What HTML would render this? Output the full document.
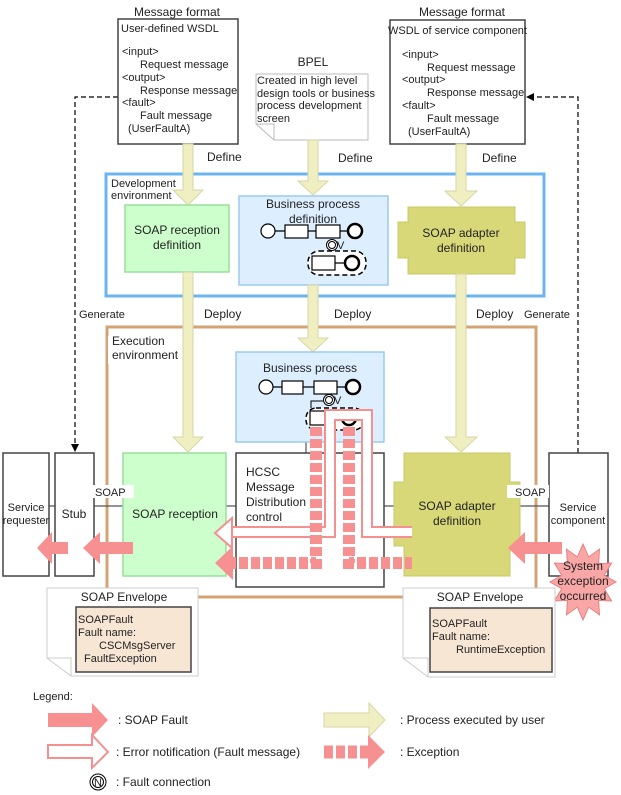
<!DOCTYPE html>
<html><head><meta charset="utf-8"><style>
html,body{margin:0;padding:0;background:#fff;}
svg{display:block;font-family:"Liberation Sans",Arial,sans-serif;}
text{font-size:12px;fill:#222;}
.s{font-size:11px;}
</style></head><body>
<svg width="621" height="795" viewBox="0 0 621 795" xmlns="http://www.w3.org/2000/svg">
<defs>
<marker id="ah" markerWidth="8" markerHeight="8" refX="7" refY="4" orient="auto" markerUnits="userSpaceOnUse"><path d="M0,0 L8,4 L0,8 z" fill="#000"/></marker>
</defs>
<path d="M118,97 H75 V451" fill="none" stroke="#000" stroke-width="1.2" stroke-dasharray="5,3" marker-end="url(#ah)"/>
<path d="M578,453 V97 H527" fill="none" stroke="#000" stroke-width="1.2" stroke-dasharray="5,3" marker-end="url(#ah)"/>

<text x="177" y="16" text-anchor="middle">Message format</text>
<rect x="118" y="19" width="120" height="125" fill="#fff" stroke="#444" stroke-width="1.5"/>
<text class="s" x="121" y="32">User-defined WSDL</text>
<text class="s" x="122" y="55">&lt;input&gt;</text>
<text class="s" x="140" y="68">Request message</text>
<text class="s" x="122" y="81">&lt;output&gt;</text>
<text class="s" x="140" y="94">Response message</text>
<text class="s" x="122" y="106">&lt;fault&gt;</text>
<text class="s" x="140" y="119">Fault message</text>
<text class="s" x="128" y="132">(UserFaultA)</text>

<text x="313" y="66" text-anchor="middle">BPEL</text>
<path d="M256,74 H368 V140 H274 L256,124 Z" fill="#fff" stroke="#bbb" stroke-width="1"/>
<path d="M256,124 H274 V140" fill="none" stroke="#bbb"/>
<text class="s" x="257" y="84">Created in high level</text>
<text class="s" x="257" y="97">design tools or business</text>
<text class="s" x="257" y="109">process development</text>
<text class="s" x="257" y="122">screen</text>

<text x="462" y="16" text-anchor="middle">Message format</text>
<rect x="390" y="20" width="135" height="124" fill="#fff" stroke="#444" stroke-width="1.5"/>
<text class="s" x="388" y="34">WSDL of service component</text>
<text class="s" x="402" y="58">&lt;input&gt;</text>
<text class="s" x="427" y="71">Request message</text>
<text class="s" x="402" y="83">&lt;output&gt;</text>
<text class="s" x="427" y="96">Response message</text>
<text class="s" x="402" y="109">&lt;fault&gt;</text>
<text class="s" x="427" y="122">Fault message</text>
<text class="s" x="408" y="135">(UserFaultA)</text>

<text x="207" y="161">Define</text>
<text x="338" y="162">Define</text>
<text x="482" y="162">Define</text>

<rect x="107" y="327" width="429" height="270" fill="none" stroke="#d4a373" stroke-width="3"/>
<rect x="108" y="336" width="70" height="28" fill="#fff"/>
<text x="112" y="345">Execution</text>
<text x="112" y="359">environment</text>
<text x="204" y="318">Deploy</text>
<text x="334" y="318">Deploy</text>
<text x="476" y="318">Deploy</text>
<text class="s" x="79" y="318">Generate</text>
<text class="s" x="524" y="318">Generate</text>

<rect x="106" y="174" width="438" height="122" fill="#fff" stroke="#6cb4f0" stroke-width="3"/>
<text class="s" x="111" y="187">Development</text>
<text class="s" x="111" y="199">environment</text>

<rect x="125" y="205" width="104" height="67" fill="#ccffcc" stroke="#99dd99" stroke-width="1.5"/>
<text x="177" y="234" text-anchor="middle">SOAP reception</text>
<text x="177" y="249" text-anchor="middle">definition</text>

<rect x="239" y="196" width="149" height="89" fill="#ddeeff" stroke="#99ccee" stroke-width="1.5"/>
<text x="313" y="208" text-anchor="middle">Business process</text>
<text x="313" y="223" text-anchor="middle">definition</text>
<g stroke="#000" fill="#fff">
<line x1="268" y1="231" x2="355" y2="231" stroke-width="1.2"/>
<circle cx="268" cy="231" r="7" stroke-width="1.2"/>
<rect x="285" y="225" width="23" height="13" stroke-width="1.2"/>
<rect x="316" y="225" width="24" height="13" stroke-width="1.2"/>
<circle cx="355" cy="231" r="7" stroke-width="2.5"/>
<circle cx="332" cy="245" r="5.5" stroke-width="1"/><circle cx="332" cy="245" r="3.5" stroke-width="1"/>
<rect x="308" y="251" width="58" height="24" rx="11" stroke-width="1.5" stroke-dasharray="5,3"/>
<line x1="335" y1="263" x2="352" y2="263" stroke-width="1.2"/>
<rect x="312" y="256" width="23" height="14" stroke-width="1.2"/>
<circle cx="352" cy="263" r="7" stroke-width="2.5"/>
</g>
<text class="s" x="337" y="249">V</text>

<path d="M408,207 H515 V222 H525 V258 H515 V274 H408 V258 H398 V222 H408 Z" fill="#d8d878" stroke="#c8c868" stroke-width="1"/>
<text x="461" y="237" text-anchor="middle">SOAP adapter</text>
<text x="461" y="252" text-anchor="middle">definition</text>

<g fill="#efefc2" stroke="#d6d6a8" stroke-width="1">
<polygon points="183,144 193,144 193,190 203,190 188,205 173,190 183,190"/>
<polygon points="308,140 318,140 318,181 328,181 313,195 298,181 308,181"/>
<polygon points="456,144 466,144 466,191 477,191 461,206 445,191 456,191"/>
<polygon points="183,272 193,272 193,437 203,437 188,452 173,437 183,437"/>
<polygon points="308,285 318,285 318,338 328,338 313,352 298,338 308,338"/>
<polygon points="456,274 466,274 466,437 477,437 461,452 445,437 456,437"/>
</g>

<line x1="49" y1="506" x2="555" y2="506" stroke="#555" stroke-width="1.2"/>
<line x1="306" y1="441" x2="306" y2="453" stroke="#555" stroke-width="1.2"/>

<rect x="3" y="453" width="46" height="123" fill="#fff" stroke="#444" stroke-width="1.5"/>
<text class="s" x="26" y="511" text-anchor="middle">Service</text>
<text class="s" x="26" y="524" text-anchor="middle">requester</text>
<rect x="55" y="453" width="39" height="123" fill="#fff" stroke="#444" stroke-width="1.5"/>
<text x="74" y="518" text-anchor="middle">Stub</text>
<rect x="123" y="453" width="103" height="123" fill="#ccffcc" stroke="#99dd99" stroke-width="1.5"/>
<text x="175" y="518" text-anchor="middle">SOAP reception</text>
<rect x="92" y="485" width="42" height="13" fill="#fff"/>
<text class="s" x="95" y="496">SOAP</text>

<rect x="236" y="352" width="148" height="90" fill="#ddeeff" stroke="#99ccee" stroke-width="1.5"/>
<text x="310" y="372" text-anchor="middle">Business process</text>
<g stroke="#000" fill="#fff">
<line x1="266" y1="387" x2="353" y2="387" stroke-width="1.2"/>
<circle cx="266" cy="387" r="7" stroke-width="1.2"/>
<rect x="282" y="381" width="21" height="13" stroke-width="1.2"/>
<rect x="314" y="381" width="23" height="13" stroke-width="1.2"/>
<circle cx="353" cy="387" r="7" stroke-width="2.5"/>
<circle cx="329" cy="400" r="5.5" stroke-width="1"/><circle cx="329" cy="400" r="3.5" stroke-width="1"/>
<rect x="306" y="408" width="58" height="22" rx="10" stroke-width="1.5" stroke-dasharray="5,3"/>
<rect x="310" y="411" width="23" height="14" stroke-width="1.2"/>
<circle cx="349" cy="418" r="7" stroke-width="2.5"/>
<path d="M323,401 H311 V408" fill="none" stroke-width="1"/>
</g>
<text class="s" x="334" y="404">V</text>

<rect x="236" y="453" width="148" height="134" fill="#fff" stroke="#444" stroke-width="1.5"/>
<text x="246" y="476">HCSC</text>
<text x="246" y="491">Message</text>
<text x="246" y="506">Distribution</text>
<text x="246" y="521">control</text>

<path d="M404,453 H510 V482 H520 V546 H510 V576 H404 V546 H394 V482 H404 Z" fill="#d8d878" stroke="#c8c868" stroke-width="1"/>
<text x="457" y="510" text-anchor="middle">SOAP adapter</text>
<text x="457" y="525" text-anchor="middle">definition</text>
<rect x="549" y="453" width="59" height="123" fill="#fff" stroke="#444" stroke-width="1.5"/>
<text class="s" x="578" y="511" text-anchor="middle">Service</text>
<text class="s" x="578" y="524" text-anchor="middle">component</text>
<rect x="507" y="485" width="42" height="13" fill="#fff"/>
<text class="s" x="515" y="496">SOAP</text>

<path d="M412,532 H367 V415 H330 V532 H230" fill="none" stroke="#f59090" stroke-width="12"/>
<path d="M412,532 H367 V415 H330 V532 H228" fill="none" stroke="#fff" stroke-width="8"/>
<polygon points="232,518 215,533 232,548" fill="#fff" stroke="#f59090" stroke-width="2"/>
<path d="M316,427 V563 H232" fill="none" stroke="#f79090" stroke-width="12" stroke-dasharray="9,3"/>
<path d="M349,427 V563 H412" fill="none" stroke="#f79090" stroke-width="12" stroke-dasharray="9,3"/>
<polygon points="233,546 215,563 233,580" fill="#f79090"/>

<g fill="#f79090">
<polygon points="68,542 52,542 52,532 37,548 52,564 52,554 68,554"/>
<polygon points="133,542 100,542 100,532 83,548 100,564 100,554 133,554"/>
<polygon points="562,542 525,542 525,532 508,548 525,564 525,554 562,554"/>
</g>
<polygon points="616,582 604.3,588.7 611.6,601 598.6,600.4 599.5,614.9 588.7,607.1 583,620 577.3,607.1 566.5,614.9 567.4,600.4 554.4,601 561.7,588.7 550,582 561.7,575.3 554.4,563 567.4,563.6 566.5,549.1 577.3,556.9 583,544 588.7,556.9 599.5,549.1 598.6,563.6 611.6,563 604.3,575.3" fill="#f9a6a6" stroke="#e88080" stroke-width="1"/>
<text x="583" y="570" text-anchor="middle">System</text>
<text x="583" y="585" text-anchor="middle">exception</text>
<text x="583" y="600" text-anchor="middle">occurred</text>

<path d="M47,588 H198 V676 H71 L47,658 Z" fill="#fff" stroke="#ccc"/>
<path d="M47,658 H71 V676" fill="none" stroke="#ccc"/>
<text x="124" y="601" text-anchor="middle">SOAP Envelope</text>
<rect x="76" y="607" width="115" height="65" fill="#f8e6d5" stroke="#444" stroke-width="1.5"/>
<text class="s" x="78" y="623">SOAPFault</text>
<text class="s" x="78" y="636">Fault name:</text>
<text class="s" x="99" y="649">CSCMsgServer</text>
<text class="s" x="84" y="662">FaultException</text>

<path d="M403,588 H555 V677 H428 L403,658 Z" fill="#fff" stroke="#ccc"/>
<path d="M403,658 H428 V677" fill="none" stroke="#ccc"/>
<text x="480" y="601" text-anchor="middle">SOAP Envelope</text>
<rect x="430" y="608" width="122" height="64" fill="#f8e6d5" stroke="#444" stroke-width="1.5"/>
<text class="s" x="432" y="627">SOAPFault</text>
<text class="s" x="432" y="640">Fault name:</text>
<text class="s" x="456" y="653">RuntimeException</text>

<text class="s" x="33" y="700">Legend:</text>
<polygon points="48,713 92,713 92,703 108,720 92,737 92,727 48,727" fill="#f79090"/>
<text x="118" y="724">: SOAP Fault</text>
<polygon points="324,713 369,713 369,703 385,720 369,737 369,727 324,727" fill="#efefc2" stroke="#d6d6a8"/>
<text x="400" y="724">: Process executed by user</text>
<polygon points="48,745 92,745 92,735 108,752 92,768 92,758 48,758" fill="#fff" stroke="#f59090" stroke-width="2"/>
<text x="116" y="756">: Error notification (Fault message)</text>
<line x1="324" y1="752" x2="370" y2="752" stroke="#f79090" stroke-width="13" stroke-dasharray="9,3"/>
<polygon points="368,735 385,752 368,769" fill="#f79090"/>
<text x="400" y="756">: Exception</text>
<circle cx="98" cy="782" r="8" fill="none" stroke="#000"/><circle cx="98" cy="782" r="5.5" fill="none" stroke="#000"/>
<text class="s" x="94" y="786">N</text>
<text x="116" y="786">: Fault connection</text>
</svg>
</body></html>
